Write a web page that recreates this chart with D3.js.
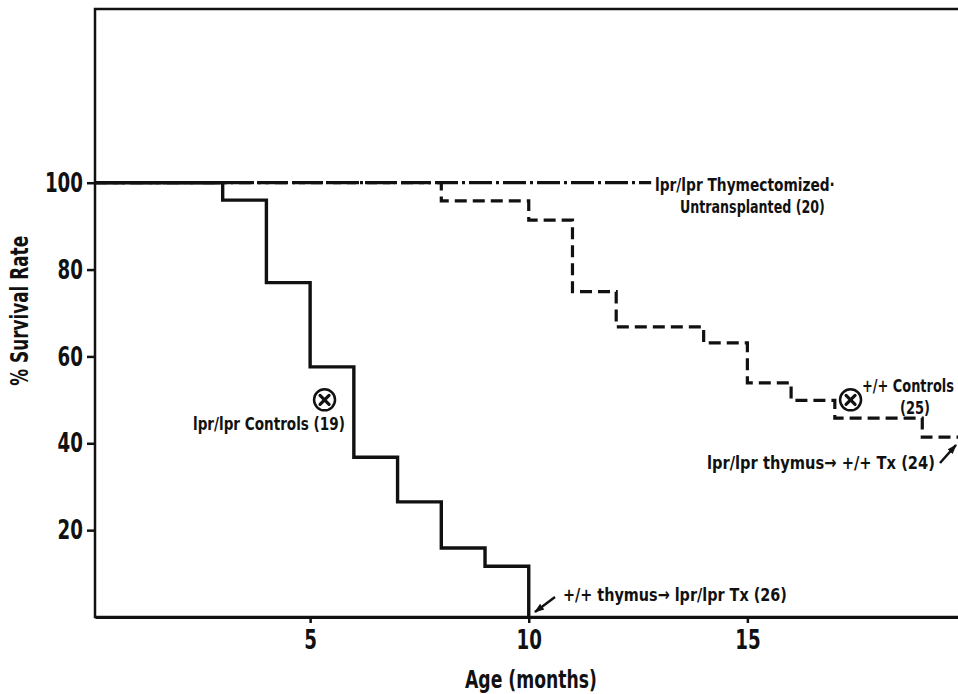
<!DOCTYPE html>
<html>
<head>
<meta charset="utf-8">
<script src="https://cdn.jsdelivr.net/npm/d3@7"></script>
<style>
  html, body { margin: 0; padding: 0; background: #fff; overflow: hidden; }
  svg { display: block; }
  text { font-family: "Liberation Sans Narrow", "DejaVu Sans Condensed", "Arial Narrow", sans-serif; font-stretch: condensed; font-weight: bold; fill: #111; }
</style>
</head>
<body>
<script>
// ---- data ----
const xTicks = [5, 10, 15];
const yTicks = [20, 40, 60, 80, 100];

// lpr/lpr Controls (19) - solid
const controlsMonths = [0, 3, 4, 5, 6, 7, 8, 9, 10];
const controlsSurvival = [100, 96, 77, 57.6, 36.8, 26.5, 15.9, 11.7, 0];

// +/+ Controls / lpr/lpr thymus -> +/+ Tx (24) - dashed
const txMonths = [0, 8, 10, 11, 12, 14, 15, 16, 17, 19, 20];
const txSurvival = [100, 95.8, 91.4, 74.9, 66.8, 63.1, 53.9, 49.9, 45.8, 41.4, 41.4];

// lpr/lpr Thymectomized-Untransplanted (20) - dash-dot
const thymMonths = [0, 12.8];
const thymSurvival = [100, 100];

// median markers (circle with x)
const markerMonths = [5.33, 17.36];
const markerSurvival = [50, 50];

// annotation labels
const annLabels = [
  "lpr/lpr Thymectomized·", "Untransplanted (20)", "lpr/lpr Controls (19)",
  "+/+ Controls", "(25)", "lpr/lpr thymus→ +/+ Tx (24)", "+/+ thymus→ lpr/lpr Tx (26)"
];

const W = 958, H = 694;
const margin = { left: 95, top: 9, right: -8, bottom: 77 };

const svg = d3.select("body").append("svg").attr("width", W).attr("height", H);

const x = d3.scaleLinear().domain([0.08, 20]).range([margin.left, W - margin.right]).clamp(true);
const y = d3.scaleLinear().domain([0, 140]).range([H - margin.bottom, margin.top]);

// frame
svg.append("rect")
  .attr("x", x.range()[0]).attr("y", y.range()[1])
  .attr("width", x.range()[1] - x.range()[0])
  .attr("height", y.range()[0] - y.range()[1])
  .attr("fill", "none").attr("stroke", "#111").attr("stroke-width", 2.5);

function squeeze(sel, perChar) {
  sel.each(function () {
    const t = d3.select(this);
    const n = t.text().length;
    t.attr("textLength", n * perChar).attr("lengthAdjust", "spacingAndGlyphs");
  });
}
// place a text and scale it horizontally to a given width
function fitText(sel, px, py, width, rotate) {
  sel.each(function () {
    const natural = this.getComputedTextLength();
    const sx = width / natural;
    d3.select(this).attr("transform",
      `translate(${px},${py})` + (rotate ? ` rotate(${rotate})` : "") + ` scale(${sx},1)`);
  });
}

// axes
const yAxis = d3.axisLeft(y).tickValues(yTicks).tickSize(8).tickSizeOuter(0).tickPadding(4).tickFormat(d3.format("d"));
const gy = svg.append("g").attr("transform", `translate(${x.range()[0]},0)`).call(yAxis);
gy.select(".domain").remove();
gy.selectAll("line").attr("stroke", "#111").attr("stroke-width", 2.5);
gy.selectAll("text").style("font-size", "27px").attr("fill", "#111").call(squeeze, 12.7);

const xAxis = d3.axisBottom(x).tickValues(xTicks).tickSize(6).tickSizeOuter(0).tickPadding(7).tickFormat(d3.format("d"));
const gx = svg.append("g").attr("transform", `translate(0,${y(0)})`).call(xAxis);
gx.select(".domain").attr("stroke", "#111").attr("stroke-width", 3);
gx.selectAll("line").attr("stroke", "#111").attr("stroke-width", 2.5);
gx.selectAll("text").style("font-size", "27px").attr("fill", "#111").call(squeeze, 12.7);

// axis titles
svg.append("text")
  .attr("text-anchor", "middle").style("font-size", "25px")
  .text("Age (months)")
  .call(fitText, x(10.05), 688, 132);
svg.append("text")
  .attr("text-anchor", "middle").style("font-size", "24px")
  .text("% Survival Rate")
  .call(fitText, 28, y(70.5), 150, -90);

// lines
svg.append("clipPath").attr("id", "clip").append("rect")
  .attr("x", x.range()[0]).attr("y", y.range()[1])
  .attr("width", x.range()[1] - x.range()[0]).attr("height", y.range()[0] - y.range()[1]);

const line = d3.line().x(d => x(d[0])).y(d => y(d[1])).curve(d3.curveStepAfter);
const plot = svg.append("g").attr("clip-path", "url(#clip)");

plot.append("path")
  .datum(d3.zip(thymMonths, thymSurvival))
  .attr("d", line).attr("fill", "none").attr("stroke", "#111")
  .attr("stroke-width", 3.2).attr("stroke-dasharray", "23,4,3,4");

plot.append("path")
  .datum(d3.zip(txMonths, txSurvival))
  .attr("d", line).attr("fill", "none").attr("stroke", "#111")
  .attr("stroke-width", 3.2).attr("stroke-dasharray", "12,6");

plot.append("path")
  .datum(d3.zip(controlsMonths, controlsSurvival))
  .attr("d", line).attr("fill", "none").attr("stroke", "#111")
  .attr("stroke-width", 3.4).attr("stroke-linejoin", "miter");

// median markers
const mk = svg.append("g").selectAll("g")
  .data(d3.zip(markerMonths, markerSurvival)).join("g")
  .attr("transform", d => `translate(${x(d[0])},${y(d[1])})`);
mk.append("circle").attr("r", 10.5).attr("fill", "#fff").attr("stroke", "#111").attr("stroke-width", 2.5);
mk.append("path").attr("d", "M-4.5,-4.5L4.5,4.5M4.5,-4.5L-4.5,4.5")
  .attr("stroke", "#111").attr("stroke-width", 3.2).attr("stroke-linecap", "round");

// annotations: [x, baseline y, width]
const annPos = [
  [655, 191, 180], [680, 213, 145], [193, 430, 152],
  [862, 392, 92], [900, 414, 30], [707, 469, 228], [563, 601, 224]
];
svg.append("g").style("font-size", "18px")
  .selectAll("text").data(annLabels).join("text")
  .text(d => d)
  .each(function (d, i) { d3.select(this).call(fitText, annPos[i][0], annPos[i][1], annPos[i][2]); });

// pointer arrows
const defs = svg.append("defs");
defs.append("marker").attr("id", "ah").attr("viewBox", "0 0 10 10")
  .attr("refX", 9).attr("refY", 5).attr("markerWidth", 4).attr("markerHeight", 4)
  .attr("orient", "auto").attr("markerUnits", "strokeWidth")
  .append("path").attr("d", "M0,1.5L10,5L0,8.5Z").attr("fill", "#111");

svg.append("line").attr("x1", 555).attr("y1", 597).attr("x2", 535).attr("y2", 612)
  .attr("stroke", "#111").attr("stroke-width", 2.5).attr("marker-end", "url(#ah)");
svg.append("line").attr("x1", 940).attr("y1", 463).attr("x2", 956).attr("y2", 445)
  .attr("stroke", "#111").attr("stroke-width", 2.5).attr("marker-end", "url(#ah)");
</script>
</body>
</html>
